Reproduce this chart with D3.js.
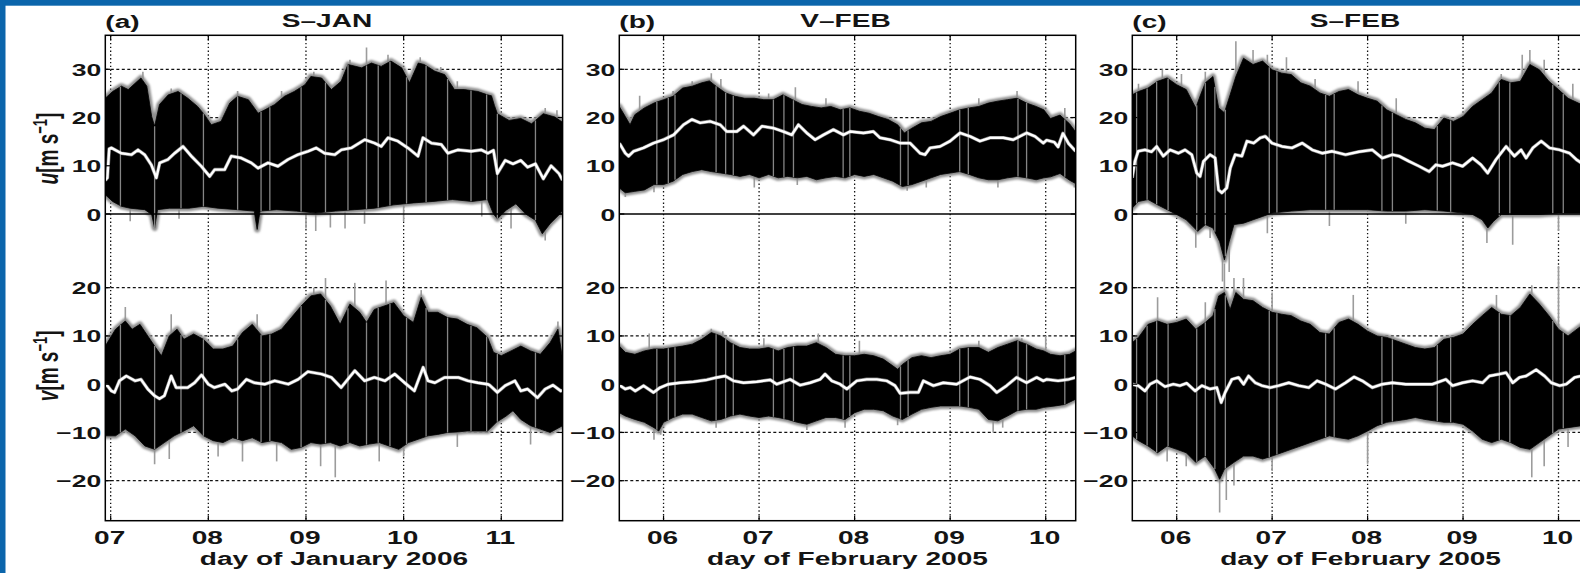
<!DOCTYPE html>
<html>
<head>
<meta charset="utf-8">
<script src="https://cdn.jsdelivr.net/npm/d3@7"></script>
<style>
  html, body { margin: 0; padding: 0; background: #fff; }
  svg { display: block; }
  text { font-family: "Liberation Sans", Arial, Helvetica, sans-serif; font-weight: bold; fill: #141414; }
</style>
</head>
<body>
<svg id="chart" width="1580" height="573"></svg>
<script>
// ---------------------------------------------------------------
// Wind components u (top) and v (bottom) for three campaigns.
// Each series: running mean (white), upper/lower envelope of the
// high-rate record (black band), and isolated excursions (grey).
// Values are [day of month, m/s].
// ---------------------------------------------------------------

// (a) S-JAN, January 2006
const aUMean = [[6.945,7],[6.966,7.5],[6.985,13.5],[7.007,13.7],[7.109,12.6],[7.212,12.3],[7.28,13.3],[7.348,12.3],[7.416,10.2],[7.468,7.5],[7.502,10.6],[7.587,11.3],[7.655,12.6],[7.741,14],[7.826,12],[7.928,9.9],[8.014,7.8],[8.065,9.2],[8.167,9.2],[8.235,12],[8.338,11.6],[8.44,10.6],[8.509,9.5],[8.611,10.6],[8.713,9.9],[8.816,11.3],[8.918,12.3],[9.02,13],[9.106,13.7],[9.191,12.6],[9.294,12.3],[9.362,13.3],[9.464,13.7],[9.601,15.4],[9.703,14.7],[9.771,14],[9.84,15.8],[9.942,15.1],[10.044,13.7],[10.147,12],[10.198,15.8],[10.283,14.7],[10.386,14.4],[10.454,12.6],[10.556,13.3],[10.693,13],[10.795,13.3],[10.863,12.6],[10.92,13.2],[10.96,8.4],[11.04,11.1],[11.12,10.4],[11.2,11.1],[11.27,9.7],[11.35,10.4],[11.43,7.3],[11.51,10],[11.59,8.4],[11.628,7]];
const aUHi = [[6.945,24],[7.02,25.4],[7.11,26.5],[7.18,25.8],[7.31,28.2],[7.37,26.5],[7.42,20.2],[7.45,18.2],[7.5,22.7],[7.59,24.7],[7.69,25.4],[7.79,24],[7.89,22.3],[7.96,20.6],[8.03,18.5],[8.13,19.2],[8.22,23],[8.3,24.4],[8.41,23.7],[8.51,20.9],[8.58,21.6],[8.68,22.7],[8.78,24.4],[8.88,25.4],[8.99,26.8],[9.05,28.5],[9.16,28.2],[9.26,25.8],[9.36,27.5],[9.43,31],[9.57,30.3],[9.67,31.3],[9.77,30.6],[9.87,31.7],[9.98,30.3],[10.06,27.2],[10.15,31.3],[10.21,31],[10.32,29.6],[10.42,28.9],[10.52,25.8],[10.62,25.8],[10.76,25.4],[10.86,24.7],[10.9,24.5],[10.93,22.5],[10.96,20.8],[11.08,19.4],[11.2,19.8],[11.31,18.7],[11.43,20.8],[11.55,20.1],[11.628,19]];
const aULo = [[6.945,4],[7.02,2.6],[7.11,1.6],[7.2,1.2],[7.35,0.9],[7.42,-0.1],[7.45,-2.9],[7.48,0.9],[7.6,1.2],[7.8,1.2],[7.95,1.6],[8.1,1.2],[8.3,0.9],[8.47,0.6],[8.5,-3.2],[8.53,0.6],[8.7,0.9],[8.9,0.6],[9.1,0.2],[9.3,0.6],[9.5,0.9],[9.7,1.2],[9.9,1.9],[10.1,2.3],[10.3,2.6],[10.5,3],[10.7,2.6],[10.86,3],[10.92,0],[10.96,-1],[11.05,0.8],[11.15,2.1],[11.25,0],[11.35,-1.3],[11.42,-4.1],[11.5,-2],[11.6,0],[11.628,0.8]];
const aUSpikes = [[7.33,29.5],[7.62,26],[8.3,25.5],[8.75,25.5],[9.08,29.5],[9.45,32],[9.62,34.5],[9.84,33],[10.17,32.5],[10.38,30.5],[10.55,27.5],[11.45,22],[11.57,21.5],[7.2,-1.5],[7.7,-1],[9.0,-3],[9.1,-3.5],[9.25,-2.8],[9.4,-3],[9.6,-2],[10.0,-1.5],[10.8,-0.5],[11.1,-3],[11.45,-5.5]];
const aVMean = [[6.945,-0.3],[6.966,-0.3],[7.007,-1.4],[7.04,-1.7],[7.09,0.7],[7.16,1.7],[7.25,0.7],[7.31,1],[7.38,-1],[7.45,-2.4],[7.5,-3],[7.55,-2.4],[7.62,1.7],[7.67,-0.7],[7.79,-0.7],[7.86,0.3],[7.93,1.9],[8.0,0],[8.06,-0.7],[8.17,0],[8.24,-1.4],[8.3,-1],[8.39,1],[8.47,0.3],[8.58,0],[8.68,0.7],[8.82,0],[8.92,1],[9.02,2.6],[9.16,2.1],[9.26,1.4],[9.36,-0.7],[9.5,2.8],[9.6,0.7],[9.7,1.4],[9.81,0.7],[9.91,2.1],[10.01,0.3],[10.11,-1.4],[10.2,3.5],[10.25,0.7],[10.32,0.3],[10.42,1.4],[10.56,1.4],[10.66,0.7],[10.76,0.3],[10.86,0],[10.88,-0.2],[10.96,-1.7],[11.04,-0.3],[11.14,0.7],[11.2,-1.4],[11.27,-1],[11.37,-2.8],[11.45,-1],[11.53,-0.2],[11.61,-1.4],[11.628,-1.3]];
const aVHi = [[6.945,7.9],[7.05,11.4],[7.15,13.1],[7.22,11.4],[7.3,12.4],[7.38,10],[7.45,7.9],[7.52,5.9],[7.6,10],[7.68,11.4],[7.75,9.3],[7.85,10.4],[7.95,9.3],[8.05,7.3],[8.15,7.3],[8.25,7.9],[8.35,10.7],[8.45,12.4],[8.55,10],[8.65,10.4],[8.75,11.4],[8.85,13.8],[8.95,16.2],[9.05,18.3],[9.15,18.7],[9.25,16.2],[9.35,12.4],[9.45,16.6],[9.55,14.9],[9.62,12.8],[9.7,15.5],[9.8,16.2],[9.9,16.9],[10.0,14.2],[10.1,12.8],[10.18,18],[10.25,14.9],[10.35,14.9],[10.45,13.8],[10.55,13.5],[10.65,12.4],[10.75,11.7],[10.86,9.7],[10.92,6.6],[11.0,5.9],[11.1,6.9],[11.2,7.9],[11.3,6.9],[11.4,6.2],[11.5,8.6],[11.58,11.4],[11.628,5.2]];
const aVLo = [[6.945,-10.7],[7.05,-10.7],[7.15,-9.3],[7.25,-10.7],[7.35,-12.8],[7.45,-13.5],[7.55,-12.1],[7.65,-10.7],[7.75,-9.7],[7.85,-8.6],[7.95,-10.7],[8.05,-11.7],[8.15,-12.1],[8.25,-11.1],[8.35,-11.7],[8.45,-11.1],[8.55,-12.1],[8.65,-11.7],[8.75,-12.1],[8.85,-13.5],[8.95,-13.1],[9.05,-12.1],[9.15,-12.4],[9.25,-12.1],[9.35,-12.8],[9.45,-12.1],[9.55,-12.8],[9.65,-12.4],[9.75,-12.1],[9.85,-12.8],[9.95,-13.5],[10.05,-12.1],[10.15,-11.4],[10.25,-10.7],[10.35,-10.4],[10.45,-10],[10.55,-9.9],[10.65,-9.7],[10.75,-9.7],[10.86,-9.7],[10.95,-7.9],[11.05,-6.6],[11.12,-5.5],[11.2,-7.3],[11.3,-8.6],[11.4,-9.3],[11.5,-10],[11.628,-8.6]];
const aVSpikes = [[7.15,16],[7.62,14.5],[8.5,14.5],[9.08,20],[9.2,22],[9.5,21],[9.82,21.5],[10.18,19.5],[11.58,13],[7.45,-16.6],[7.6,-15.5],[8.1,-15],[8.35,-16],[8.7,-16],[9.15,-17],[9.3,-19.3],[9.75,-16],[10.0,-15],[10.55,-13],[11.3,-12.5]];
const aGaps = [7.1,7.45,7.72,7.95,8.3,8.54,8.63,8.95,9.2,9.43,9.62,9.74,9.86,10.03,10.23,10.45,10.69,10.85,10.96,11.35];

// (b) V-FEB, February 2005
const bUMean = [[5.537,14.6],[5.547,14.4],[5.6,12.6],[5.634,12],[5.686,13],[5.79,13.7],[5.895,14.7],[6.0,15.4],[6.105,16.4],[6.209,18.5],[6.296,19.6],[6.384,18.9],[6.488,19.2],[6.593,18.5],[6.662,17.1],[6.767,17.1],[6.837,18.2],[6.941,16.4],[7.029,18.2],[7.151,17.8],[7.255,17.1],[7.342,16.4],[7.412,18.5],[7.499,16.8],[7.586,15.4],[7.674,16.4],[7.778,17.5],[7.883,16.4],[7.953,17.1],[8.092,16.8],[8.197,17.1],[8.266,15.8],[8.371,15.4],[8.476,14.7],[8.58,14.7],[8.685,12.6],[8.737,12.3],[8.789,13.7],[8.894,14],[8.999,15.1],[9.103,16.8],[9.208,16.1],[9.312,15.1],[9.417,15.8],[9.556,15.8],[9.661,15.4],[9.8,16.8],[9.888,16.1],[9.975,14.7],[10.01,15.3],[10.09,14.9],[10.13,13.9],[10.18,16.7],[10.24,14.6],[10.314,13]];
const bUHi = [[5.537,22.3],[5.6,20.2],[5.65,18.5],[5.7,20.6],[5.8,22],[5.9,23],[6.0,23.7],[6.1,24.4],[6.2,26.1],[6.3,26.5],[6.4,27.2],[6.48,27.6],[6.55,26.5],[6.65,25.1],[6.75,24.4],[6.85,24],[6.95,24],[7.05,23.7],[7.15,23.7],[7.25,24.7],[7.35,23.7],[7.45,22.7],[7.55,22.3],[7.65,22],[7.75,22.3],[7.85,21.6],[7.95,22],[8.05,21.3],[8.15,20.9],[8.25,20.2],[8.35,19.6],[8.45,18.5],[8.52,16.8],[8.6,17.8],[8.7,18.9],[8.8,19.2],[8.9,20.2],[9.0,20.9],[9.1,21.6],[9.2,22],[9.3,22.3],[9.4,23],[9.5,23.4],[9.6,23.7],[9.7,24],[9.8,23],[9.9,22.3],[9.98,21.6],[10.05,19.8],[10.15,20.5],[10.25,18.7],[10.314,17]];
const bULo = [[5.537,5.4],[5.6,4.4],[5.7,4.7],[5.8,5],[5.9,6.1],[6.0,6.1],[6.1,6.8],[6.2,8.2],[6.3,8.8],[6.4,9.2],[6.5,8.8],[6.6,8.5],[6.7,8.2],[6.8,7.8],[6.9,8.2],[7.0,7.5],[7.1,8.2],[7.2,7.5],[7.3,7.8],[7.4,7.5],[7.5,7.8],[7.6,7.1],[7.7,7.5],[7.8,7.8],[7.9,7.5],[8.0,8.2],[8.1,7.8],[8.2,8.2],[8.3,7.5],[8.4,6.8],[8.5,5.7],[8.6,6.1],[8.7,6.8],[8.8,7.5],[8.9,8.2],[9.0,8.5],[9.1,8.8],[9.2,8.2],[9.3,7.5],[9.4,7.1],[9.5,7.1],[9.6,7.5],[9.7,7.8],[9.8,7.5],[9.9,7.1],[9.98,7.5],[10.05,7.7],[10.15,8.4],[10.25,7],[10.314,6.3]];
const bUSpikes = [[5.75,24.5],[6.1,25.5],[6.3,27.5],[6.5,29.2],[6.6,28],[7.1,25],[7.38,26.3],[7.7,24],[9.3,24],[9.7,25.5],[10.2,22],[5.6,3.5],[5.9,4.5],[6.95,5.5],[7.4,6],[8.55,4.8],[8.75,5.5],[9.5,5.5],[10.3,5.5]];
const bVMean = [[5.537,-0.3],[5.547,-0.3],[5.599,-1],[5.651,-0.7],[5.704,-1.4],[5.791,-0.3],[5.895,-1.7],[5.965,-0.7],[6.052,0],[6.174,0.3],[6.314,0.5],[6.453,0.9],[6.558,1.4],[6.645,1.7],[6.732,0.7],[6.837,0.3],[6.976,0.5],[7.116,0.9],[7.185,0],[7.325,1],[7.43,-0.2],[7.534,0.3],[7.639,1],[7.691,2.1],[7.761,0.7],[7.848,0],[7.918,-1],[8.022,0.7],[8.127,1],[8.232,1],[8.336,0.7],[8.423,-0.3],[8.476,-1.9],[8.58,-1.7],[8.667,-1.7],[8.72,0.7],[8.824,-0.3],[8.929,0.3],[9.068,0],[9.208,1.5],[9.312,1],[9.417,-0.3],[9.487,-1.7],[9.591,-0.3],[9.696,1.4],[9.8,0.3],[9.905,1.4],[9.975,0.7],[10.01,1],[10.13,0.7],[10.24,1],[10.314,1.4]];
const bVHi = [[5.537,7.9],[5.6,6.6],[5.7,6.2],[5.8,6.9],[5.9,7.3],[6.0,7.3],[6.1,7.6],[6.2,7.9],[6.3,8.3],[6.4,9.3],[6.5,10.7],[6.6,10],[6.7,8.6],[6.8,7.6],[6.9,7.3],[7.0,7.3],[7.1,7.6],[7.2,6.9],[7.3,7.6],[7.4,7.9],[7.5,7.9],[7.6,8.6],[7.7,7.6],[7.8,6.2],[7.9,5.9],[8.0,5.9],[8.1,6.2],[8.2,5.9],[8.3,5.2],[8.4,3.8],[8.45,3.1],[8.5,4.1],[8.6,5.5],[8.7,5.9],[8.8,5.5],[8.9,5.9],[9.0,6.2],[9.1,7.3],[9.2,7.6],[9.3,7.6],[9.4,6.6],[9.5,7.6],[9.6,8.3],[9.7,9],[9.8,8.3],[9.9,7.3],[9.98,6.9],[10.05,6.2],[10.15,5.9],[10.25,6.2],[10.314,6.9]];
const bVLo = [[5.537,-5.9],[5.6,-6.6],[5.7,-7.3],[5.8,-7.9],[5.9,-9],[5.95,-9.7],[6.0,-7.9],[6.1,-6.9],[6.2,-6.2],[6.3,-6.2],[6.4,-6.9],[6.5,-7.6],[6.6,-7.3],[6.7,-6.6],[6.8,-6.2],[6.9,-6.6],[7.0,-6.9],[7.1,-6.6],[7.2,-6.9],[7.3,-7.3],[7.4,-7.9],[7.5,-8.3],[7.6,-7.6],[7.7,-6.9],[7.8,-6.9],[7.9,-7.3],[8.0,-5.9],[8.1,-5.2],[8.2,-5.2],[8.3,-5.5],[8.4,-6.6],[8.5,-7.3],[8.6,-6.2],[8.7,-5.2],[8.8,-4.8],[8.9,-4.5],[9.0,-4.5],[9.1,-4.5],[9.2,-4.8],[9.3,-5.2],[9.4,-7.3],[9.5,-7.6],[9.6,-6.6],[9.7,-5.5],[9.8,-5.2],[9.9,-5.2],[9.98,-4.8],[10.1,-4.5],[10.2,-4.2],[10.314,-3.1]];
const bVSpikes = [[5.85,10.5],[6.5,11.5],[6.62,11],[7.05,9.5],[7.62,10.5],[8.05,9],[9.3,9],[9.75,9.5],[10.0,10],[5.9,-11.5],[5.97,-10.5],[6.55,-9],[7.5,-9.5],[7.9,-9],[8.45,-8.5],[9.45,-10],[9.55,-9]];
const bGaps = [5.93,6.05,6.12,6.55,6.65,6.73,7.15,7.26,7.36,7.88,7.95,8.48,8.56,9.1,9.19,9.71,9.8,10.2];

// (c) S-FEB, February 2005
const cUMean = [[5.534,7.5],[5.562,10.9],[5.597,13],[5.667,13.3],[5.737,12.9],[5.79,14],[5.86,12],[5.93,13.3],[6.018,12.6],[6.088,13.3],[6.158,12.3],[6.21,8.5],[6.245,7.8],[6.28,10.9],[6.35,12.3],[6.403,11.6],[6.438,5],[6.473,4.4],[6.525,5.4],[6.561,9.5],[6.613,12.3],[6.683,12],[6.736,15.1],[6.806,14.7],[6.876,15.8],[6.928,16.1],[6.998,14.7],[7.104,14],[7.209,13.7],[7.314,14.7],[7.419,13.3],[7.524,12.6],[7.629,13],[7.769,12.3],[7.909,12.9],[8.049,13.3],[8.154,11.6],[8.26,12.3],[8.33,12],[8.435,10.9],[8.54,9.9],[8.645,8.8],[8.715,10.2],[8.785,9.9],[8.89,10.6],[8.995,9.9],[9.1,11.6],[9.188,10.2],[9.258,8.5],[9.346,11.3],[9.451,14],[9.538,12],[9.608,13.3],[9.661,11.6],[9.731,13.7],[9.819,15.1],[9.906,13.7],[10.011,13.3],[10.116,12.6],[10.186,11.3],[10.239,10.6],[10.33,10]];
const cUHi = [[5.533,24.7],[5.6,25.4],[5.7,26.1],[5.8,27.5],[5.9,28.2],[6.0,26.8],[6.1,25.8],[6.2,22],[6.25,24.7],[6.3,27.2],[6.38,28.5],[6.44,22],[6.5,21],[6.56,24.7],[6.62,28.5],[6.7,32.3],[6.8,31],[6.9,31.7],[7.0,29.9],[7.1,29.2],[7.2,28.9],[7.3,27.2],[7.4,26.5],[7.5,25.1],[7.6,24.4],[7.7,25.4],[7.8,25.8],[7.9,24.7],[8.0,24],[8.1,23.4],[8.2,21.6],[8.3,20.6],[8.4,19.6],[8.5,18.9],[8.6,17.8],[8.7,17.5],[8.8,19.9],[8.9,19.2],[9.0,20.2],[9.1,22.3],[9.2,23.7],[9.3,25.1],[9.4,27.9],[9.5,27.2],[9.6,27.5],[9.7,31],[9.8,29.9],[9.9,27.5],[10.0,25.8],[10.1,24],[10.24,22.7],[10.33,22]];
const cULo = [[5.533,1.2],[5.6,2.6],[5.7,3],[5.8,1.9],[5.9,0.9],[6.0,-0.1],[6.1,-1.2],[6.15,-2.2],[6.22,-3.6],[6.3,-2.2],[6.38,-2.9],[6.45,-5.7],[6.5,-9.5],[6.55,-5.7],[6.6,-2.2],[6.7,-1.9],[6.8,-1.2],[6.9,-0.5],[7.0,0.2],[7.2,0.6],[7.4,0.9],[7.6,0.9],[7.8,0.9],[8.0,0.9],[8.2,0.6],[8.4,0.6],[8.6,0.9],[8.8,0.6],[9.0,0.2],[9.1,-0.1],[9.2,-1.2],[9.26,-2.9],[9.32,-1.5],[9.4,-0.1],[9.6,-0.1],[9.8,-0.1],[10.0,0.2],[10.24,0.2],[10.33,0.2]];
const cUSpikes = [[5.6,27],[5.85,30],[6.05,29],[6.3,29.5],[6.62,35.8],[6.8,34],[6.95,33],[7.15,32.5],[7.45,28],[7.9,27.5],[8.3,24],[9.4,29],[9.62,33],[9.7,34],[9.85,32],[10.15,27],[6.2,-7],[6.35,-5],[6.48,-14],[6.55,-12],[6.95,-4],[7.6,-2.5],[8.4,-2],[9.25,-6],[9.52,-6.4],[10.0,-3.5]];
const cVMean = [[5.534,0],[5.597,-0.3],[5.667,-1.4],[5.72,0],[5.79,0.7],[5.877,-0.5],[5.965,0],[6.035,-0.3],[6.105,0.2],[6.193,-1.4],[6.263,-0.3],[6.35,-1],[6.42,-0.7],[6.466,-3.8],[6.508,-1.7],[6.578,1],[6.648,1.4],[6.701,0],[6.753,1.7],[6.823,0.3],[6.893,-0.3],[6.981,-0.7],[7.068,-0.3],[7.174,0.3],[7.279,-0.3],[7.384,-0.7],[7.471,0.7],[7.559,0],[7.664,-1],[7.769,0.3],[7.857,1.5],[7.944,0.7],[8.049,-0.7],[8.154,0],[8.26,0.3],[8.4,0],[8.54,0],[8.68,0],[8.82,1],[8.89,-0.3],[8.995,0.3],[9.1,0.7],[9.205,0.3],[9.276,1.7],[9.381,2.1],[9.451,2.4],[9.521,0.3],[9.591,1.4],[9.661,1.7],[9.766,3],[9.854,1.7],[9.924,0.3],[10.011,-0.3],[10.081,0],[10.169,1.4],[10.239,1.7],[10.33,1.5]];
const cVHi = [[5.533,8.6],[5.6,9.7],[5.7,12.4],[5.8,13.1],[5.9,12.4],[6.0,12.8],[6.1,13.5],[6.2,11.4],[6.3,12.8],[6.38,14.2],[6.44,18.3],[6.5,19],[6.56,15.5],[6.62,19],[6.7,17.6],[6.8,17.3],[6.9,15.9],[7.0,14.9],[7.1,14.5],[7.2,14.2],[7.3,13.1],[7.4,12.4],[7.5,10.7],[7.6,10.4],[7.7,12.8],[7.8,13.5],[7.9,12.4],[8.0,11],[8.1,10],[8.2,9.7],[8.3,9],[8.4,8.3],[8.5,7.6],[8.6,7.3],[8.7,7.6],[8.8,9.3],[8.9,9.7],[9.0,10.4],[9.1,12.4],[9.2,14.2],[9.3,15.9],[9.4,14.5],[9.5,14.2],[9.6,15.9],[9.7,18.7],[9.8,16.6],[9.9,14.2],[10.0,11.4],[10.1,10],[10.24,12.1],[10.33,12]];
const cVLo = [[5.533,-10.7],[5.6,-11.7],[5.7,-12.8],[5.8,-14.2],[5.9,-12.8],[6.0,-13.5],[6.1,-14.2],[6.2,-16.2],[6.3,-14.9],[6.4,-17.6],[6.45,-19.7],[6.5,-17.6],[6.6,-16.2],[6.7,-14.9],[6.8,-14.9],[6.9,-15.5],[7.0,-14.9],[7.1,-14.2],[7.2,-13.5],[7.3,-12.8],[7.4,-12.1],[7.5,-11.4],[7.6,-10.7],[7.7,-11.1],[7.8,-11.4],[7.9,-10.7],[8.0,-9.7],[8.1,-8.6],[8.2,-7.9],[8.3,-7.6],[8.4,-7.3],[8.5,-6.9],[8.6,-7.3],[8.7,-7.6],[8.8,-7.9],[8.9,-7.9],[9.0,-8.3],[9.1,-9.7],[9.2,-11.4],[9.3,-12.1],[9.4,-11.4],[9.5,-12.1],[9.6,-13.1],[9.7,-13.5],[9.8,-12.1],[9.9,-10.7],[10.0,-9.3],[10.1,-9],[10.24,-8.6],[10.33,-8.5]];
const cVSpikes = [[5.8,18],[6.3,17],[6.5,25],[6.6,22],[6.7,22],[7.0,19],[7.85,18.5],[9.35,18.5],[9.72,20.5],[10.0,24.5],[5.9,-16],[6.1,-17],[6.45,-26.6],[6.52,-24],[6.6,-21],[7.0,-18],[8.0,-16.5],[9.72,-19.3],[9.85,-17],[10.1,-13]];
const cGaps = [5.58,5.69,5.79,5.91,6.21,6.3,6.4,6.51,6.97,7.05,7.56,7.65,8.15,8.26,8.73,8.87,9.38,9.49,9.94,10.05];

// axis ticks
const uTicks = [0, 10, 20, 30];
const vTicks = [-20, -10, 0, 10, 20];

// ---------------------------------------------------------------
const W = 1580, H = 573;
const STRETCH = 1.56;              // wide lettering used throughout
const plotTop = 35.3, plotBottom = 520.7;
const yU = d3.scaleLinear().domain([0, 30]).range([214, 69.3]);
const yV = d3.scaleLinear().domain([-20, 20]).range([480.7, 287.7]);

const panels = [
  { key: 'a', tag: '(a)', title: 'S\u2013JAN', titleX: 327, xlabel: 'day of January 2006',
    domain: [6.945, 11.628], range: [105.3, 562.6], days: [7, 8, 9, 10, 11], gaps: aGaps,
    u: { mean: aUMean, hi: aUHi, lo: aULo, spikes: aUSpikes },
    v: { mean: aVMean, hi: aVHi, lo: aVLo, spikes: aVSpikes }, ylabels: true },
  { key: 'b', tag: '(b)', title: 'V\u2013FEB', titleX: 845.5, xlabel: 'day of February 2005',
    domain: [5.537, 10.314], range: [619.3, 1075.7], days: [6, 7, 8, 9, 10], gaps: bGaps,
    u: { mean: bUMean, hi: bUHi, lo: bULo, spikes: bUSpikes },
    v: { mean: bVMean, hi: bVHi, lo: bVLo, spikes: bVSpikes }, ylabels: false },
  { key: 'c', tag: '(c)', title: 'S\u2013FEB', titleX: 1355, xlabel: 'day of February 2005',
    domain: [5.535, 10.33], range: [1132.3, 1590], days: [6, 7, 8, 9, 10], gaps: cGaps,
    u: { mean: cUMean, hi: cUHi, lo: cULo, spikes: cUSpikes },
    v: { mean: cVMean, hi: cVHi, lo: cVLo, spikes: cVSpikes }, ylabels: false }
];

const svg = d3.select('#chart');
svg.append('rect').attr('width', W).attr('height', H).attr('fill', '#fff');
const defs = svg.append('defs');
// soft grey fringe around each band
defs.append('filter').attr('id', 'fringe').attr('x', '-5%').attr('y', '-20%')
  .attr('width', '110%').attr('height', '140%')
  .append('feGaussianBlur').attr('stdDeviation', 1.3);

// linear lookup along a [day, value] series
function valueAt(pairs, day) {
  const i = d3.bisector(d => d[0]).left(pairs, day);
  if (i <= 0) return pairs[0][1];
  if (i >= pairs.length) return pairs[pairs.length - 1][1];
  const a = pairs[i - 1], b = pairs[i];
  return a[1] + (day - a[0]) / (b[0] - a[0]) * (b[1] - a[1]);
}

function wideText(parent, x, y, str, anchor, size) {
  return parent.append('g')
    .attr('transform', `translate(${x},${y}) scale(${STRETCH},1)`)
    .append('text')
    .attr('text-anchor', anchor)
    .attr('font-size', size)
    .text(str);
}

const fmtDay = d3.format('02d');
const fmtTick = v => (v < 0 ? '\u2212' + Math.abs(v) : String(v));

panels.forEach(p => {
  const x = d3.scaleLinear().domain(p.domain).range(p.range);
  const [x0, x1] = p.range;
  const g = svg.append('g');

  defs.append('clipPath').attr('id', 'clip-' + p.key)
    .append('rect').attr('x', x0).attr('y', plotTop)
    .attr('width', x1 - x0).attr('height', plotBottom - plotTop);
  const inner = g.append('g').attr('clip-path', `url(#clip-${p.key})`);

  // grid
  const hLines = uTicks.filter(t => t !== 0).map(t => yU(t)).concat(vTicks.map(t => yV(t)));
  inner.append('g').selectAll('line').data(hLines).join('line')
    .attr('x1', x0).attr('x2', x1).attr('y1', d => d).attr('y2', d => d)
    .attr('stroke', '#111').attr('stroke-width', 1.2).attr('stroke-dasharray', '3,2.5');
  inner.append('g').selectAll('line').data(p.days).join('line')
    .attr('x1', d => x(d)).attr('x2', d => x(d)).attr('y1', plotTop).attr('y2', plotBottom)
    .attr('stroke', '#111').attr('stroke-width', 1.3).attr('stroke-dasharray', '1.4,2.4');

  [[p.u, yU], [p.v, yV]].forEach(([s, y]) => {
    // isolated excursions beyond the band
    inner.append('g').selectAll('line').data(s.spikes).join('line')
      .attr('x1', d => x(d[0])).attr('x2', d => x(d[0]))
      .attr('y1', d => y(valueAt(s.mean, d[0]))).attr('y2', d => y(d[1]))
      .attr('stroke', '#9c9c9c').attr('stroke-width', 1.6);

    const ring = s.hi.map(d => [x(d[0]), y(d[1])])
      .concat(s.lo.slice().reverse().map(d => [x(d[0]), y(d[1])]));
    const bandPath = d3.line()(ring) + 'Z';

    inner.append('path').attr('d', bandPath)
      .attr('fill', '#8a8a8a').attr('stroke', '#8f8f8f')
      .attr('stroke-width', 6).attr('stroke-linejoin', 'round')
      .attr('filter', 'url(#fringe)');
    inner.append('path').attr('d', bandPath)
      .attr('fill', '#000').attr('stroke', '#000').attr('stroke-width', 0.8);

    // thin grey streaks across the band
    inner.append('g').selectAll('line').data(p.gaps).join('line')
      .attr('x1', d => x(d)).attr('x2', d => x(d))
      .attr('y1', d => y(valueAt(s.hi, d))).attr('y2', d => y(valueAt(s.lo, d)))
      .attr('stroke', '#858585').attr('stroke-width', 1.3);

    // running mean
    inner.append('path')
      .attr('d', d3.line().x(d => x(d[0])).y(d => y(d[1]))(s.mean))
      .attr('fill', 'none').attr('stroke', '#c8c8c8').attr('stroke-width', 3.6)
      .attr('stroke-linejoin', 'round').attr('opacity', 0.6);
    inner.append('path')
      .attr('d', d3.line().x(d => x(d[0])).y(d => y(d[1]))(s.mean))
      .attr('fill', 'none').attr('stroke', '#fff').attr('stroke-width', 2.4)
      .attr('stroke-linejoin', 'round');
  });

  // frame and u = 0 divider
  g.append('rect').attr('x', x0).attr('y', plotTop)
    .attr('width', x1 - x0).attr('height', plotBottom - plotTop)
    .attr('fill', 'none').attr('stroke', '#000').attr('stroke-width', 1.5);
  g.append('line').attr('x1', x0).attr('x2', x1).attr('y1', yU(0)).attr('y2', yU(0))
    .attr('stroke', '#000').attr('stroke-width', 1.5);

  // inward tick marks
  const yTickPos = uTicks.map(t => yU(t)).concat(vTicks.map(t => yV(t)));
  const tk = g.append('g').attr('stroke', '#000').attr('stroke-width', 1.2);
  yTickPos.forEach(yy => {
    tk.append('line').attr('x1', x0).attr('x2', x0 + 5).attr('y1', yy).attr('y2', yy);
    tk.append('line').attr('x1', x1).attr('x2', x1 - 5).attr('y1', yy).attr('y2', yy);
  });
  p.days.forEach(d => {
    tk.append('line').attr('x1', x(d)).attr('x2', x(d)).attr('y1', plotBottom).attr('y2', plotBottom - 5);
    tk.append('line').attr('x1', x(d)).attr('x2', x(d)).attr('y1', plotTop).attr('y2', plotTop + 5);
  });

  // tick labels
  uTicks.forEach(t => wideText(g, x0 - 4, yU(t) + 6.5, fmtTick(t), 'end', 17));
  vTicks.forEach(t => wideText(g, x0 - 4, yV(t) + 6.5, fmtTick(t), 'end', 17));
  p.days.forEach(d => wideText(g, x(d) - 1, 544, fmtDay(d), 'middle', 18));

  // titles and axis label
  wideText(g, x0, 27.5, p.tag, 'start', 18);
  wideText(g, p.titleX, 27, p.title, 'middle', 18);
  wideText(g, (x0 + Math.min(x1, 1588.8)) / 2, 564.5, p.xlabel, 'middle', 18);

  if (p.ylabels) {
    [['u', 148.5], ['v', 365.8]].forEach(([name, cy]) => {
      const t = g.append('g')
        .attr('transform', `translate(57.5,${cy}) scale(${STRETCH},1) rotate(-90)`)
        .append('text').attr('text-anchor', 'middle').attr('font-size', 19);
      t.append('tspan').attr('font-style', 'italic').text(name);
      t.append('tspan').text('[m s');
      t.append('tspan').attr('font-size', 13).attr('dy', -7).text('\u22121');
      t.append('tspan').attr('dy', 7).text(']');
    });
  }
});

// blue frame along the top and left edges
svg.append('rect').attr('x', 0).attr('y', 0).attr('width', W).attr('height', 5.7).attr('fill', '#0b65ab');
svg.append('rect').attr('x', 0).attr('y', 0).attr('width', 5.5).attr('height', H).attr('fill', '#0b65ab');
</script>
</body>
</html>
